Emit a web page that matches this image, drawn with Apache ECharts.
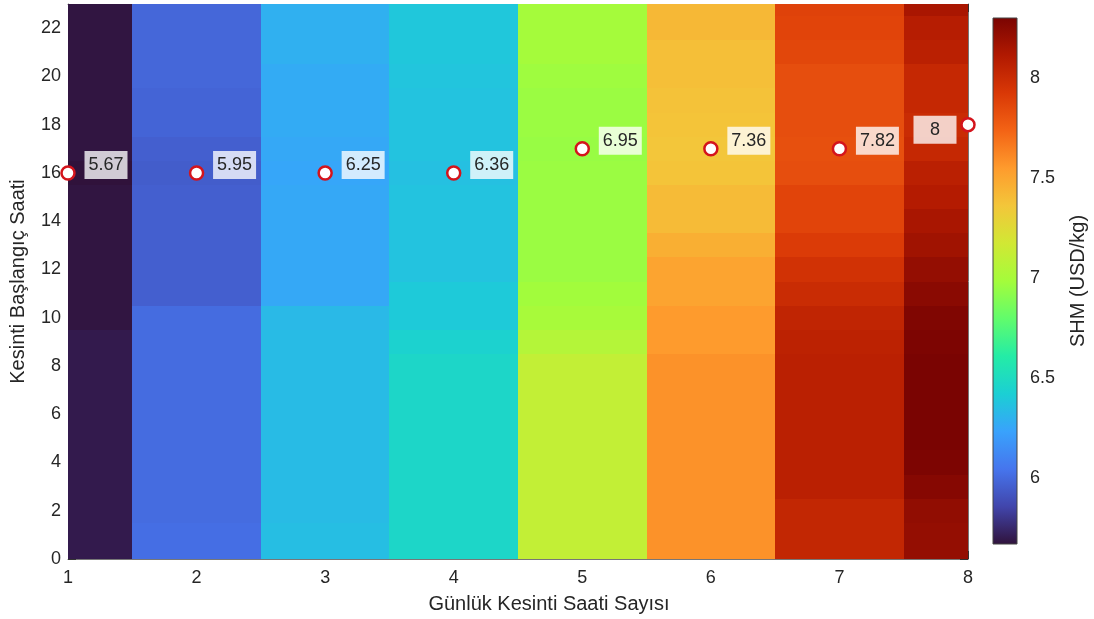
<!DOCTYPE html>
<html>
<head>
<meta charset="utf-8">
<script src="https://cdn.jsdelivr.net/npm/echarts@6/dist/echarts.min.js"></script>
<style>
html,body{margin:0;padding:0;background:#fff;}
#chart{width:1094px;height:619px;}
</style>
</head>
<body>
<div id="chart"></div>
<script>
// X categories: daily outage hours; Y: outage start hour (0..23)
const outageHours = [1, 2, 3, 4, 5, 6, 7, 8];
const startHours = [0,1,2,3,4,5,6,7,8,9,10,11,12,13,14,15,16,17,18,19,20,21,22,23];

// SHM (USD/kg) values, one array per column (row index = start hour 0..23)
const shm1 = [5.70,5.70,5.70,5.70,5.70,5.70,5.70,5.70,5.70,5.70,5.68,5.68,5.68,5.68,5.68,5.68,5.67,5.68,5.68,5.68,5.68,5.68,5.68,5.68];
const shm2 = [6.02,6.02,6.01,6.01,6.01,6.01,6.01,6.01,6.01,6.01,6.01,5.96,5.96,5.96,5.96,5.96,5.95,5.96,5.98,5.98,5.99,5.99,5.99,5.99];
const shm3 = [6.35,6.35,6.34,6.34,6.34,6.34,6.34,6.34,6.34,6.34,6.33,6.26,6.26,6.26,6.26,6.26,6.25,6.26,6.27,6.27,6.27,6.29,6.29,6.29];
const shm4 = [6.47,6.47,6.47,6.47,6.47,6.47,6.47,6.47,6.47,6.44,6.40,6.40,6.37,6.37,6.37,6.37,6.36,6.37,6.37,6.37,6.38,6.39,6.39,6.39];
const shm5 = [7.11,7.11,7.11,7.11,7.11,7.11,7.11,7.11,7.11,7.05,7.00,6.98,6.96,6.96,6.96,6.96,6.96,6.95,6.96,6.96,6.97,6.99,6.99,6.99];
const shm6 = [7.58,7.58,7.58,7.58,7.58,7.58,7.58,7.58,7.58,7.55,7.55,7.51,7.51,7.46,7.41,7.41,7.37,7.36,7.37,7.38,7.39,7.39,7.42,7.42];
const shm7 = [8.03,8.03,8.03,8.07,8.07,8.07,8.07,8.07,8.07,8.06,8.04,8.00,7.96,7.91,7.87,7.87,7.83,7.82,7.83,7.83,7.83,7.86,7.87,7.88];
const shm8 = [8.21,8.21,8.22,8.26,8.29,8.30,8.30,8.30,8.30,8.29,8.28,8.245,8.21,8.17,8.14,8.10,8.07,8.02,8.00,8.02,8.02,8.07,8.09,8.14];
const shmColumns = [shm1, shm2, shm3, shm4, shm5, shm6, shm7, shm8];

// Optimal points (minimum SHM per column)
const optX = [1, 2, 3, 4, 5, 6, 7, 8];
const optY = [16, 16, 16, 16, 17, 17, 17, 18];
const optLabel = ['5.67', '5.95', '6.25', '6.36', '6.95', '7.36', '7.82', '8'];

const cbTicks = [6, 6.5, 7, 7.5, 8];

const turbo = ['#30123b','#4145ab','#4675ed','#39a2fc','#1bcfd4','#24eca6','#61fc6c','#a4fc3b','#d1e834','#f3c63a','#fe9b2d','#f36315','#d93806','#b11901','#7a0402'];

const heatData = [];
shmColumns.forEach((col, i) => {
  col.forEach((v, j) => heatData.push([outageHours[i], startHours[j], v]));
});
const allVals = heatData.map(d => d[2]);
const vMin = Math.min(...allVals);
const vMax = Math.max(...allVals);

const labelOffsets = optX.map((x, i) => i === optX.length - 1 ? [-33, 5] : [38, -8]);
const optData = optX.map((x, i) => ({
  value: [x, optY[i], optLabel[i]],
  label: { offset: labelOffsets[i] }
}));

const txt = '#262626';
const font = 'Liberation Sans, Arial, Helvetica, sans-serif';

const chart = echarts.init(document.getElementById('chart'));
chart.setOption({
  animation: false,
  backgroundColor: '#fff',
  textStyle: { fontFamily: font },
  grid: [
    { left: 68, top: 4, width: 900, height: 555, show: false },
    { left: 993, top: 18, width: 24, height: 526, show: false }
  ],
  xAxis: [
    { type: 'value', gridIndex: 0, position: 'bottom', min: 1, max: 8, interval: 1,
      name: 'Günlük Kesinti Saati Sayısı', nameLocation: 'middle', nameGap: 35,
      nameTextStyle: { fontSize: 20, color: txt, fontFamily: font, padding: [0, 0, 0, 62] },
      axisLine: { show: true, onZero: false, lineStyle: { color: '#777', width: 1 } },
      axisTick: { show: true, inside: true, length: 8, lineStyle: { color: '#333' } },
      axisLabel: { fontSize: 18, color: txt, margin: 10, fontFamily: font },
      splitLine: { show: false } },
    { type: 'value', gridIndex: 0, position: 'top', min: 1, max: 8, interval: 1,
      axisLine: { show: true, onZero: false, lineStyle: { color: '#777', width: 1 } },
      axisTick: { show: true, inside: true, length: 8, lineStyle: { color: '#333' } },
      axisLabel: { show: false }, splitLine: { show: false } },
    { type: 'value', gridIndex: 1, min: 0, max: 1, show: false }
  ],
  yAxis: [
    { type: 'value', gridIndex: 0, position: 'left', min: 0, max: 23, interval: 2,
      name: 'Kesinti Başlangıç Saati', nameLocation: 'middle', nameGap: 40, nameRotate: 90,
      nameTextStyle: { fontSize: 20, color: txt, fontFamily: font },
      axisLine: { show: true, onZero: false, lineStyle: { color: '#777', width: 1 } },
      axisTick: { show: true, inside: true, length: 8, lineStyle: { color: '#333' } },
      axisLabel: { fontSize: 18, color: txt, margin: 7, fontFamily: font,
        formatter: v => (v % 2 === 0 ? String(v) : '') },
      splitLine: { show: false } },
    { type: 'value', gridIndex: 0, position: 'right', min: 0, max: 23, interval: 2,
      axisLine: { show: true, onZero: false, lineStyle: { color: '#777', width: 1 } },
      axisTick: { show: true, inside: true, length: 8, lineStyle: { color: '#333' } },
      axisLabel: { show: false }, splitLine: { show: false } },
    { type: 'value', gridIndex: 1, position: 'right', min: vMin, max: vMax,
      name: 'SHM (USD/kg)', nameLocation: 'middle', nameGap: 51, nameRotate: 90,
      nameTextStyle: { fontSize: 20, color: txt, fontFamily: font },
      axisLine: { show: false },
      axisTick: { show: true, inside: false, length: 5, customValues: cbTicks, lineStyle: { color: '#333' } },
      axisLabel: { fontSize: 18, color: txt, margin: 13, customValues: cbTicks, fontFamily: font },
      splitLine: { show: false } }
  ],
  visualMap: {
    show: false, type: 'continuous', seriesIndex: 0, dimension: 2,
    min: vMin, max: vMax, inRange: { color: turbo }
  },
  series: [
    {
      type: 'custom', xAxisIndex: 0, yAxisIndex: 0, data: heatData, z: 1,
      renderItem: function (params, api) {
        const x = api.value(0), y = api.value(1);
        const p0 = api.coord([x - 0.5, y + 0.5]);
        const p1 = api.coord([x + 0.5, y - 0.5]);
        const cs = params.coordSys;
        const r = echarts.graphic.clipRectByRect(
          { x: p0[0], y: p0[1], width: p1[0] - p0[0], height: p1[1] - p0[1] },
          { x: cs.x, y: cs.y, width: cs.width, height: cs.height });
        if (!r) return;
        const x0 = Math.round(r.x), y0 = Math.round(r.y);
        const x1 = Math.round(r.x + r.width), y1 = Math.round(r.y + r.height);
        const c = api.visual('color');
        return { type: 'rect', shape: { x: x0, y: y0, width: x1 - x0, height: y1 - y0 },
          style: { fill: c } };
      }
    },
    {
      type: 'custom', xAxisIndex: 2, yAxisIndex: 2, data: [[0, vMin, vMax]], z: 1,
      renderItem: function (params, api) {
        const p0 = api.coord([0, api.value(2)]);
        const p1 = api.coord([1, api.value(1)]);
        const stops = turbo.map((c, i) => ({ offset: i / (turbo.length - 1), color: c }));
        return { type: 'rect',
          shape: { x: p0[0], y: p0[1], width: p1[0] - p0[0], height: p1[1] - p0[1] },
          style: { fill: new echarts.graphic.LinearGradient(0, 1, 0, 0, stops), stroke: '#444', lineWidth: 1 } };
      }
    },
    {
      type: 'scatter', xAxisIndex: 0, yAxisIndex: 0, data: optData, z: 5, clip: false,
      symbol: 'circle', symbolSize: 13,
      itemStyle: { color: '#ffffff', borderColor: '#d4141c', borderWidth: 2.5, opacity: 1 },
      label: {
        show: true, position: 'inside',
        formatter: p => p.value[2],
        backgroundColor: 'rgba(255,255,255,0.78)',
        width: 31, align: 'center', padding: [5, 6], lineHeight: 18,
        fontSize: 18, color: txt, fontFamily: font
      }
    }
  ]
});
</script>
</body>
</html>
